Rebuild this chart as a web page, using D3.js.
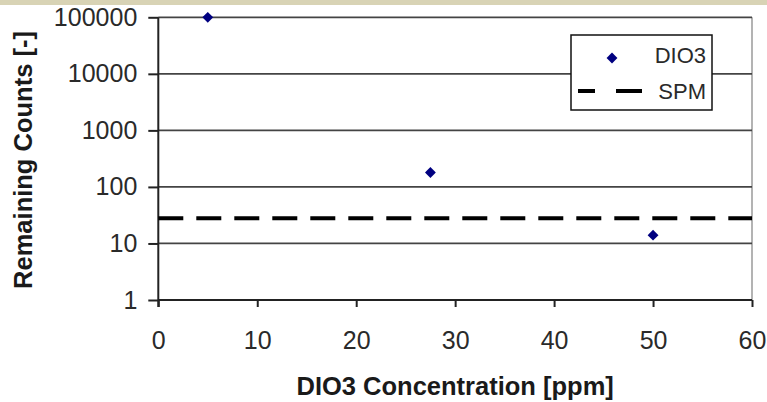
<!DOCTYPE html>
<html>
<head>
<meta charset="utf-8">
<script src="https://cdn.jsdelivr.net/npm/d3@7"></script>
<style>
  html, body { margin: 0; padding: 0; background: #fff; }
  svg { display: block; font-family: "Liberation Sans", Arial, sans-serif; }
</style>
</head>
<body>
<svg id="chart" width="767" height="402"></svg>
<script>
// ---- data ----
const concentrations = [5, 27.5, 50];           // DIO3 concentration [ppm]
const remainingCounts = [100000, 180, 14];      // DIO3 series
const spmLevel = 28;                            // SPM reference level
const xTickValues = [0, 10, 20, 30, 40, 50, 60];
const yTickValues = [1, 10, 100, 1000, 10000, 100000];
const seriesNames = ["DIO3", "SPM"];
const xTitle = "DIO3 Concentration [ppm]";
const yTitle = "Remaining Counts [-]";

// ---- layout ----
const svg = d3.select("#chart");
const plotL = 158.3, plotR = 752, plotT = 17.3, plotB = 300;

svg.append("rect").attr("x", 0).attr("y", 0).attr("width", 767).attr("height", 5)
  .attr("fill", "#d8d3b5");

const x = d3.scaleLinear().domain([0, 60]).range([plotL, plotR]);
const y = d3.scaleLog().domain([1, 100000]).range([plotB, plotT]);

// right border of plot area
svg.append("line").attr("x1", plotR).attr("x2", plotR).attr("y1", plotT).attr("y2", plotB)
  .attr("stroke", "#9a9a9a").attr("stroke-width", 1.5);

// gridlines
svg.append("g").selectAll("line").data(yTickValues.filter(d => d > 1)).join("line")
  .attr("x1", plotL).attr("x2", plotR)
  .attr("y1", d => y(d)).attr("y2", d => y(d))
  .attr("stroke", "#444").attr("stroke-width", 1.8);

// y axis
const yAxis = svg.append("g").attr("transform", `translate(${plotL},0)`)
  .call(d3.axisLeft(y).tickValues(yTickValues).tickFormat(d3.format("d"))
        .tickSize(10).tickPadding(11));
yAxis.select(".domain").attr("stroke", "#222").attr("stroke-width", 2)
  .attr("d", `M0,${plotT}V${plotB + 7}`);
yAxis.selectAll(".tick line").attr("stroke", "#222").attr("stroke-width", 2);
yAxis.selectAll(".tick text").attr("font-size", 25).attr("fill", "#2a2a2a")
  .attr("font-family", "Liberation Sans, Arial, sans-serif");

// x axis
const xAxis = svg.append("g").attr("transform", `translate(0,${plotB})`)
  .call(d3.axisBottom(x).tickValues(xTickValues).tickFormat(d3.format("d"))
        .tickSize(7).tickPadding(24));
xAxis.select(".domain").attr("stroke", "#222").attr("stroke-width", 2)
  .attr("d", `M${plotL},0H${plotR}`);
xAxis.selectAll(".tick line").attr("stroke", "#222").attr("stroke-width", 2);
xAxis.selectAll(".tick text").attr("font-size", 25).attr("fill", "#2a2a2a")
  .attr("font-family", "Liberation Sans, Arial, sans-serif");

// SPM dashed line
svg.append("line").attr("x1", plotL).attr("x2", plotR)
  .attr("y1", y(spmLevel)).attr("y2", y(spmLevel))
  .attr("stroke", "#000").attr("stroke-width", 4).attr("stroke-dasharray", "25,13");

// DIO3 markers
const diamond = d3.symbol().type(d3.symbolDiamond2).size(75);
svg.append("g").selectAll("path").data(concentrations.map((c, i) => [c, remainingCounts[i]]))
  .join("path")
  .attr("transform", d => `translate(${x(d[0])},${y(d[1])})`)
  .attr("d", diamond).attr("fill", "#000080");

// titles
svg.append("text").attr("x", (plotL + plotR) / 2).attr("y", 395)
  .attr("text-anchor", "middle").attr("font-size", 25.5).attr("font-weight", "bold")
  .attr("fill", "#1a1a1a").text(xTitle);
svg.append("text").attr("transform", "translate(32,160) rotate(-90)")
  .attr("text-anchor", "middle").attr("font-size", 25.5).attr("font-weight", "bold")
  .attr("fill", "#1a1a1a").text(yTitle);

// legend
const lg = svg.append("g");
lg.append("rect").attr("x", 571).attr("y", 35).attr("width", 141).attr("height", 75)
  .attr("fill", "#fff").attr("stroke", "#111").attr("stroke-width", 1.5);
lg.append("path").attr("transform", "translate(612,58)").attr("d", diamond).attr("fill", "#000080");
lg.append("line").attr("x1", 578).attr("x2", 642).attr("y1", 91).attr("y2", 91)
  .attr("stroke", "#000").attr("stroke-width", 4).attr("stroke-dasharray", "17,21,26");
lg.selectAll("text.lab").data(seriesNames).join("text").attr("class", "lab")
  .attr("x", 706).attr("y", (d, i) => i === 0 ? 63 : 99)
  .attr("text-anchor", "end").attr("font-size", 22).attr("fill", "#2a2a2a").text(d => d);
</script>
</body>
</html>
